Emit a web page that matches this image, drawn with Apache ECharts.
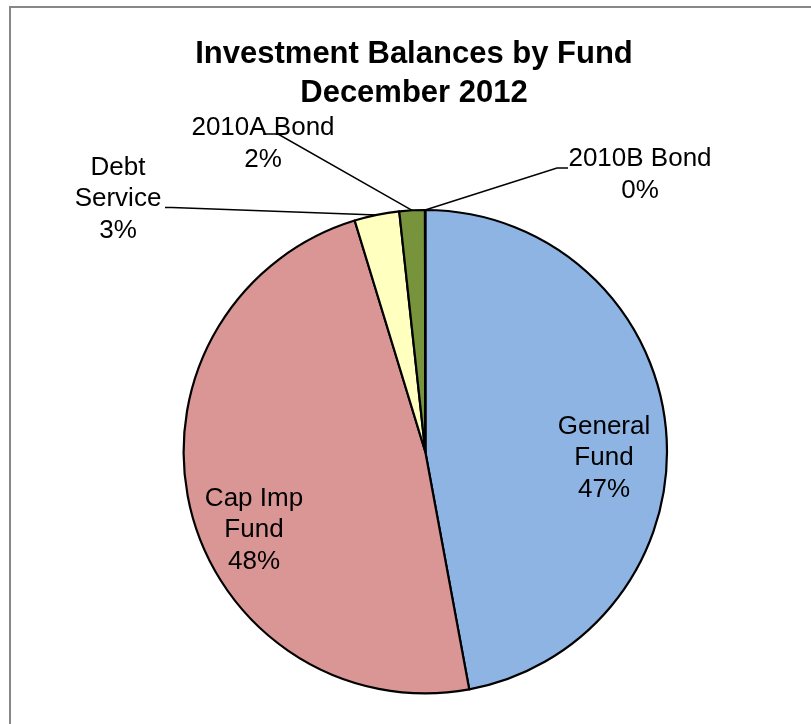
<!DOCTYPE html>
<html>
<head>
<meta charset="utf-8">
<script src="https://cdn.jsdelivr.net/npm/echarts@6/dist/echarts.min.js"></script>
<style>
  html, body { margin: 0; padding: 0; background: #fff; }
  #wrap { position: relative; width: 811px; height: 724px; overflow: hidden; }
  #chart { width: 811px; height: 724px; }
  /* chart-area frame: only the top and left edges fall inside the view */
  #frame { position: absolute; left: 9px; top: 6px; width: 900px; height: 900px;
           border-left: 2px solid #878787; border-top: 2px solid #878787; pointer-events: none; }
</style>
</head>
<body>
<div id="wrap"><div id="chart"></div><div id="frame"></div></div>
<script>
// Fund names (line breaks as shown on the labels) and their share of the total balance, %
const categories = ['General\nFund', 'Cap Imp\nFund', 'Debt\nService', '2010A Bond', '2010B Bond'];
const shares = [47.1, 48.2, 3.0, 1.7, 0.02];

// Slice fills
const colors = ['#8EB4E3', '#D99694', '#FFFFBF', '#77933C', '#B3A2C7'];

// Label block centres and leader-line bends (layout only)
const labelSpots = [[604, 458], [254, 530], [118, 199], [263, 144], [640, 175]];
const leaderBends = [null, null, [[172, 207.5], [165, 207.5]], [[278, 134], [263, 134]], [[557, 168], [568, 168]]];

const chart = echarts.init(document.getElementById('chart'), null, { renderer: 'canvas' });

chart.setOption({
  animation: false,
  backgroundColor: '#ffffff',
  title: {
    text: 'Investment Balances by Fund\nDecember 2012',
    left: 414,
    top: 35,
    textAlign: 'center',
    padding: 0,
    textStyle: {
      fontFamily: '"Liberation Sans", Arial, sans-serif',
      fontSize: 31,
      fontWeight: 'bold',
      lineHeight: 39,
      color: '#000'
    }
  },
  series: [{
    type: 'pie',
    center: [425.3, 451.7],
    radius: 241.7,
    startAngle: 90,
    clockwise: true,
    avoidLabelOverlap: false,
    emphasis: { disabled: true },
    itemStyle: { borderColor: '#000', borderWidth: 2.2 },
    label: {
      show: true,
      formatter: p => p.name + '\n' + Math.round(p.percent) + '%',
      fontFamily: '"Liberation Sans", Arial, sans-serif',
      fontSize: 26,
      lineHeight: 31.5,
      color: '#000',
      align: 'center'
    },
    labelLine: { show: true, smooth: false, lineStyle: { color: '#000', width: 1.5 } },
    data: categories.map((name, i) => ({
      name: name,
      value: shares[i],
      itemStyle: { color: colors[i] },
      label: { position: i < 2 ? 'inside' : 'outside' },
      labelLine: { show: i >= 2 }
    })),
    labelLayout: function (p) {
      const i = p.dataIndex;
      const spot = labelSpots[i];
      const out = { x: spot[0], y: spot[1], align: 'center', verticalAlign: 'middle' };
      if (leaderBends[i] && p.labelLinePoints) {
        out.labelLinePoints = [p.labelLinePoints[0]].concat(leaderBends[i]);
      }
      return out;
    }
  }]
});
</script>
</body>
</html>
